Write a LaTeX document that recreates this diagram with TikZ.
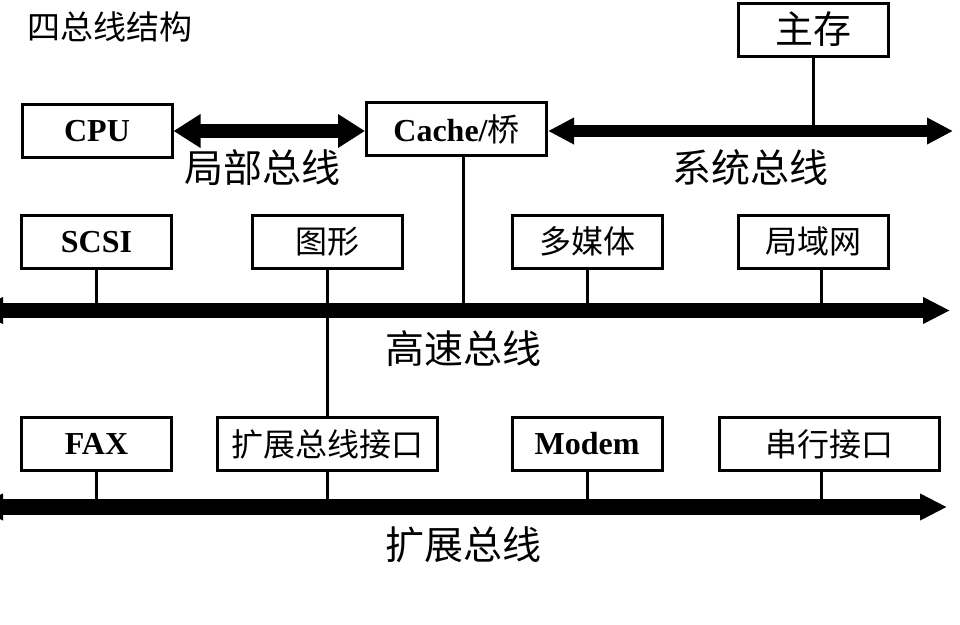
\documentclass[tikz,border=0pt]{standalone}
\usepackage{fontspec}
\setmainfont{Liberation Serif}
\newfontfamily\cjk{Noto Sans CJK SC}
\usetikzlibrary{arrows.meta}

\begin{document}
\begin{tikzpicture}[x=1pt, y=-1pt,
    box/.style={draw, line width=3pt, inner sep=0pt, minimum width=150pt, minimum height=53pt},
    wide/.style={box, minimum width=220pt},
    en/.style={font=\fontsize{32}{36}\selectfont\bfseries},
    zh/.style={font=\fontsize{32}{36}\selectfont\cjk},
    lbl/.style={font=\fontsize{39}{44}\selectfont\cjk},
    stub/.style={line width=3pt},
    localbus/.style={line width=14pt, {Triangle[length=27pt,width=32pt]}-{Triangle[length=27pt,width=32pt]}},
    sysbus/.style={line width=12pt, {Triangle[length=26pt,width=25pt]}-{Triangle[length=26pt,width=25pt]}},
    bus/.style={line width=15pt, {Triangle[length=27pt,width=25pt]}-{Triangle[length=27pt,width=25pt]}},
    ]
\useasboundingbox (0,0) rectangle (960,624);
\clip (0,0) rectangle (960,624);

\node[font=\fontsize{33}{38}\selectfont\cjk] (title) at (110,27) {四总线结构};

% top row
\node[box, en] (cpu) at (97,131) {CPU};
\node[box, en, minimum width=180pt] (cache) at (456.5,129) {Cache/{\mdseries\cjk 桥}};
\node[box, font=\fontsize{38}{42}\selectfont\cjk] (mem) at (813.5,29.5) {主存};

% high speed bus devices
\node[box, en] (scsi) at (96.5,242) {SCSI};
\node[box, zh] (gfx) at (327.5,241.5) {图形};
\node[box, zh] (mm) at (587,241.5) {多媒体};
\node[box, zh] (lan) at (813.5,241.5) {局域网};

% expansion bus devices
\node[box, en] (fax) at (96.5,444) {FAX};
\node[wide, zh] (ebi) at (327.5,444) {扩展总线接口};
\node[box, en] (modem) at (587,444) {Modem};
\node[wide, zh] (serial) at (829.5,444) {串行接口};

\coordinate (sysR) at (953,131);
\coordinate (hsL) at (-24,310.5);
\coordinate (hsR) at (950,310.5);
\coordinate (esL) at (-24,507);
\coordinate (esR) at (947,507);

% stubs
\draw[stub] (mem.south) -- (mem.south |- sysR);
\draw[stub] ([xshift=6.5pt]cache.south) -- ([xshift=6.5pt]cache.south |- hsL);
\foreach \n in {scsi,mm}
    \draw[stub] (\n.south) -- (\n.south |- hsL);
\draw[stub] ([xshift=7.5pt]lan.south) -- ([xshift=7.5pt]lan.south |- hsL);
\draw[stub] (gfx.south) -- (ebi.north);
\foreach \n in {fax,ebi,modem}
    \draw[stub] (\n.south) -- (\n.south |- esL);
\draw[stub] ([xshift=-8.5pt]serial.south) -- ([xshift=-8.5pt]serial.south |- esL);

% buses
\draw[localbus] (cpu.east) -- (cpu.east -| cache.west);
\draw[sysbus] (sysR -| cache.east) -- (sysR);
\draw[bus] (hsL) -- (hsR);
\draw[bus, line width=16pt] (esL) -- (esR);

\node[lbl] (locallbl) at (262,168) {局部总线};
\node[lbl] (syslbl) at (750,168) {系统总线};
\node[lbl] (hslbl) at (463,349) {高速总线};
\node[lbl] (eslbl) at (463,545) {扩展总线};
\end{tikzpicture}
\end{document}
